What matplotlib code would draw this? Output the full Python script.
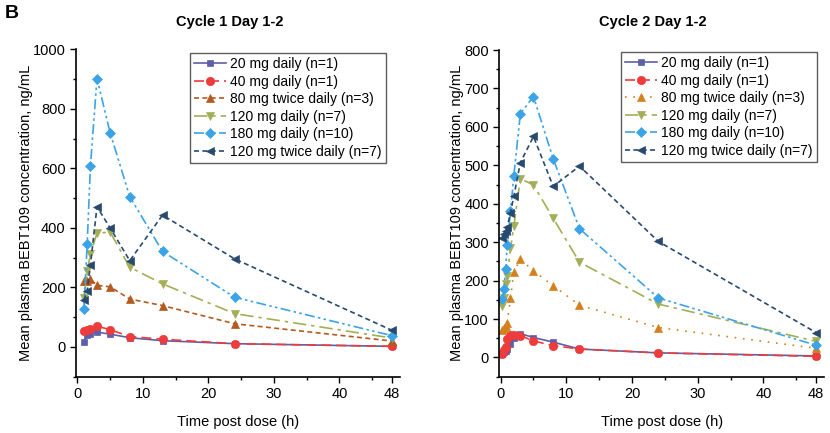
import matplotlib
matplotlib.use("Agg")
import matplotlib.pyplot as plt
from matplotlib.ticker import MultipleLocator

plt.rcParams["font.family"] = ["Liberation Sans", "DejaVu Sans"]
plt.rcParams["font.size"] = 10

# Cycle 1 Day 1-2
c1_time = [1, 1.5, 2, 3, 5, 8, 13, 24, 48]
c1_20qd = [16, 40, 45, 50, 43, 31, 21, 11, 2]
c1_40qd = [55, 57, 60, 70, 58, 35, 26, 11, 2]
c1_80bid = [220, 222, 228, 207, 202, 161, 139, 78, 20]
c1_120qd = [165, 254, 312, 382, 386, 268, 212, 112, 30]
c1_180qd = [128, 346, 609, 902, 720, 505, 321, 167, 38]
c1_120bid = [157, 188, 277, 471, 400, 290, 443, 296, 56]

# Cycle 2 Day 1-2
c2_time = [0.25, 0.5, 0.75, 1, 1.5, 2, 3, 5, 8, 12, 24, 48]
c2_20qd = [10, 15, 18, 22, 35, 50, 62, 52, 40, 22, 12, 4]
c2_40qd = [10, 20, 28, 47, 58, 58, 57, 43, 31, 22, 12, 3]
c2_80bid = [72, 76, 82, 90, 154, 222, 256, 225, 187, 136, 78, 24]
c2_120qd = [133, 154, 190, 211, 284, 341, 465, 449, 362, 248, 139, 42]
c2_180qd = [152, 178, 231, 293, 380, 472, 634, 679, 517, 335, 155, 32]
c2_120bid = [312, 322, 330, 339, 377, 419, 507, 575, 445, 498, 302, 65]

labels = ["20 mg daily (n=1)", "40 mg daily (n=1)", "80 mg twice daily (n=3)",
          "120 mg daily (n=7)", "180 mg daily (n=10)", "120 mg twice daily (n=7)"]
markers = ["s", "o", "^", "v", "D", "<"]
msizes = [5, 6, 6, 6, 5, 6]
colors1 = ["#5d5fa8", "#ee3b3b", "#b35a1f", "#a3ae57", "#3ba3e6", "#284a6e"]
colors2 = ["#5d5fa8", "#ee3b3b", "#d4801e", "#a3ae57", "#3ba3e6", "#284a6e"]
styles1 = ["-", (0, (6, 3)), (0, (3, 2)), (0, (8, 3, 2, 3)), (0, (6, 2, 1.5, 2, 1.5, 2)), (0, (3, 2))]
styles2 = ["-", (0, (6, 3)), (0, (1, 4)), (0, (8, 3, 2, 3)), (0, (6, 2, 1.5, 2, 1.5, 2)), (0, (3, 2))]

fig = plt.figure(figsize=(8.3, 4.33), dpi=100)
ax1 = fig.add_axes([0.0916, 0.130, 0.390, 0.756])
ax2 = fig.add_axes([0.6016, 0.130, 0.391, 0.7545])


def draw(ax, t, series, colors, styles, ylim, major, minor, title_x, title, leg_xy):
    for y, lab, m, ms, c, ls in zip(series, labels, markers, msizes, colors, styles):
        ax.plot(t, y, linestyle=ls, color=c, marker=m, markersize=ms,
                linewidth=1.2, label=lab, markeredgewidth=0.5)
    ax.set_xlim(-0.2, 49.2)
    ax.set_ylim(*ylim)
    ax.set_xticks([0, 10, 20, 30, 40, 48])
    ax.xaxis.set_minor_locator(MultipleLocator(5))
    ax.yaxis.set_major_locator(MultipleLocator(major))
    ax.yaxis.set_minor_locator(MultipleLocator(minor))
    ax.set_yticks([v for v in ax.get_yticks() if 0 <= v <= ylim[1]])
    ax.set_ylim(*ylim)
    for s in ["top", "right"]:
        ax.spines[s].set_visible(False)
    for s in ["left", "bottom"]:
        ax.spines[s].set_linewidth(1.2)
    ax.tick_params(which="major", direction="out", length=4, width=1, labelsize=10.5)
    ax.tick_params(which="minor", direction="out", length=2.5, width=1)
    ax.set_xlabel("Time post dose (h)", fontsize=10.5, labelpad=10)
    ax.set_ylabel("Mean plasma BEBT109 concentration, ng/mL", fontsize=10.5, labelpad=0)
    leg = ax.legend(loc="upper right", bbox_to_anchor=leg_xy, bbox_transform=fig.transFigure,
                    fontsize=10, handlelength=2.3, handletextpad=0.3, labelspacing=0.25,
                    borderpad=0.3, borderaxespad=0, frameon=True, fancybox=False)
    leg.get_frame().set_edgecolor("#333333")
    leg.get_frame().set_linewidth(1.0)
    fig.text(title_x, 1 - 22 / 433, title, ha="center", va="center",
             fontsize=10.5, fontweight="bold")


draw(ax1, c1_time, [c1_20qd, c1_40qd, c1_80bid, c1_120qd, c1_180qd, c1_120bid],
     colors1, styles1, (-100, 1000), 200, 100, 230 / 830, "Cycle 1 Day 1-2",
     (386 / 830, 1 - 53 / 433))
draw(ax2, c2_time, [c2_20qd, c2_40qd, c2_80bid, c2_120qd, c2_180qd, c2_120bid],
     colors2, styles2, (-50, 800), 100, 50, 653 / 830, "Cycle 2 Day 1-2",
     (817 / 830, 1 - 52 / 433))

fig.text(5 / 830, 1 - 13 / 433, "B", ha="left", va="center", fontsize=14, fontweight="bold")

fig.savefig("out.png", dpi=100)
